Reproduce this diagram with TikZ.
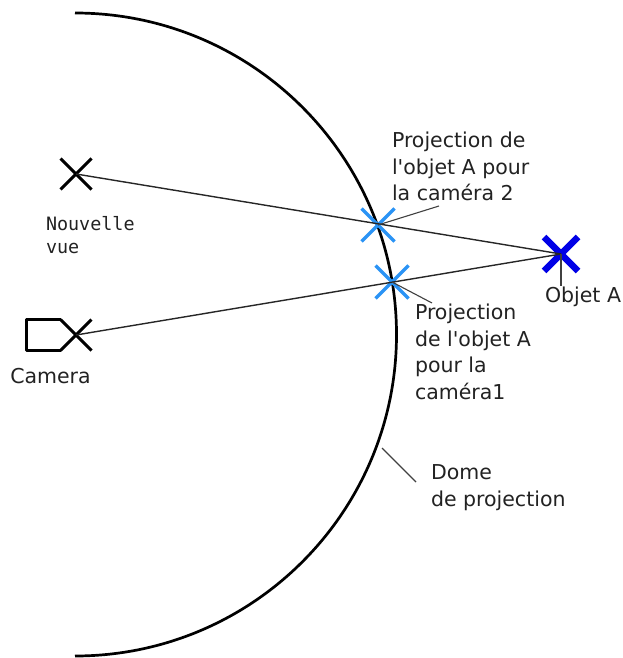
\documentclass[tikz,border=0pt]{standalone}
\usepackage{fontspec}
\setmainfont{DejaVu Sans}
\setmonofont{DejaVu Sans Mono}
\usetikzlibrary{positioning, shapes.misc}
\definecolor{ink}{HTML}{222222}
\definecolor{objblue}{HTML}{0000E6}
\definecolor{projblue}{HTML}{2A93F5}
\tikzset{
  mk/.style={cross out, draw=black, line width=3pt, inner sep=0pt, outer sep=0pt, minimum size=31pt},
  mkp/.style={mk, draw=projblue, line width=3.5pt, minimum size=33pt},
  mko/.style={mk, draw=objblue, line width=6.5pt, minimum size=34pt},
  ray/.style={line width=1.4pt, color=black!85},
  lead/.style={line width=1.1pt, color=black!75},
  dome/.style={line width=2.7pt, color=black},
  lbl/.style={font=\fontsize{20.5}{26.5}\selectfont, text=ink, align=left, inner sep=0pt, outer sep=0pt},
  lblm/.style={lbl, font=\ttfamily\fontsize{18.4}{23}\selectfont},
}
\begin{document}
\begin{tikzpicture}[x=1pt, y=-1pt]
  \useasboundingbox (0,0) rectangle (623,658);
  \draw[dome] (75,13) arc[start angle=-90, end angle=90, radius=321.5];
  % marks
  \node[mk] (vue) at (76,174) {};
  \node[mk] (cam) at (76,335) {};
  \node[mko] (obj) at (561,254) {};
  \node[mkp] (projb) at (378,225) {};
  \node[mkp] (proja) at (392,282) {};
  \draw[line width=3pt, line join=round] (cam.north west) -- ++(-34,0) |- (cam.south west);
  % rays
  \draw[ray] (vue.center) -- (obj.center);
  \draw[ray] (cam.center) -- (obj.center);
  % labels
  \node[lblm, anchor=north west] (vuetxt) at (46,216) {Nouvelle\\vue};
  \node[lbl, below=33pt of cam.center, xshift=-25.5pt] (camtxt) {Camera};
  \node[lbl, above right=24pt and 14pt of projb.center] (projbtxt) {Projection de\\l\textquotesingle objet A pour\\la caméra 2};
  \node[lbl, below right=22pt and 23pt of proja.center] (projatxt) {Projection\\de l\textquotesingle objet A\\pour la\\caméra1};
  \node[lbl, below right=33pt and -16pt of obj.center] (objtxt) {Objet A};
  \node[lbl, anchor=north west] (dometxt) at (431,465) {Dome\\de projection};
  % leaders
  \coordinate (projbend) at (439,206);
  \coordinate (projaend) at (432,303);
  \coordinate (objend) at (561,286);
  \coordinate (domea) at (382,448);
  \coordinate (domeb) at (416,482);
  \draw[lead] (projb.center) -- (projbend);
  \draw[lead] (proja.center) -- (projaend);
  \draw[lead] (obj.center) -- (objend);
  \draw[lead] (domea) -- (domeb);
\end{tikzpicture}
\end{document}
